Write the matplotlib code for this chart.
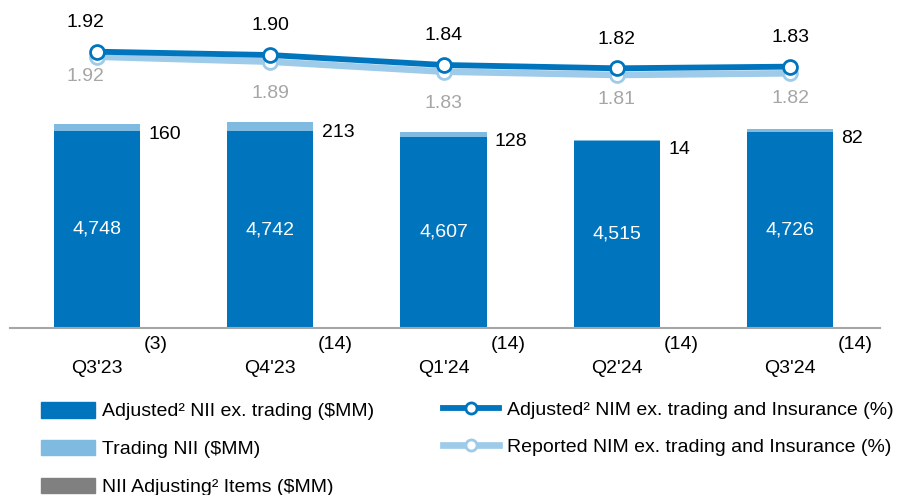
import matplotlib
matplotlib.use("Agg")
import matplotlib.pyplot as plt
from matplotlib.font_manager import fontManager
from matplotlib.lines import Line2D
from matplotlib.patches import Patch

# --- dane ---
quarters = ["Q3'23", "Q4'23", "Q1'24", "Q2'24", "Q3'24"]
adj_nii = [4748, 4742, 4607, 4515, 4726]          # Adjusted NII ex. trading ($MM)
trading_nii = [160, 213, 128, 14, 82]             # Trading NII ($MM)
adjusting_items = [-3, -14, -14, -14, -14]        # NII Adjusting Items ($MM)
adj_nim = [1.92, 1.90, 1.84, 1.82, 1.83]          # Adjusted NIM (%)
rep_nim = [1.92, 1.89, 1.83, 1.81, 1.82]          # Reported NIM (%)

DARK = "#0075BE"
LIGHT_BAR = "#7FBAE0"
LIGHT_LINE = "#9DCBE9"
GRAY = "#808080"
LABEL_GRAY = "#A6A6A6"

available = {f.name for f in fontManager.ttflist}
family = "Liberation Sans Narrow" if "Liberation Sans Narrow" in available else "Liberation Sans"
plt.rcParams["font.family"] = [family, "DejaVu Sans"]
FS = 14

W, H = 911, 495
fig = plt.figure(figsize=(W / 100, H / 100), dpi=100)

# osie: od x=10 do 880 px, od y=20 do 328 px
ax = fig.add_axes([10 / W, (H - 328) / H, 870 / W, 308 / H])
ax3 = ax.twinx()   # reported NIM
ax2 = ax.twinx()   # adjusted NIM

x = list(range(len(quarters)))
bw = 0.497

ax.bar(x, adj_nii, width=bw, color=DARK, zorder=2)
ax.bar(x, trading_nii, width=bw, bottom=adj_nii, color=LIGHT_BAR, zorder=2)
ax.bar(x, adjusting_items, width=bw, color=GRAY, zorder=1, clip_on=False)

ax.set_xlim(-0.502, 4.519)
ax.set_ylim(0, 7423)

for i in x:
    ax.text(i, adj_nii[i] / 2, f"{adj_nii[i]:,}", ha="center", va="center",
            color="white", fontsize=FS)
    top = adj_nii[i] + trading_nii[i]
    ax.annotate(f"{trading_nii[i]}", (i + bw / 2, top), xytext=(6, -1),
                textcoords="offset points", ha="left", va="top",
                fontsize=FS, color="black")
    ax.annotate(f"({-adjusting_items[i]})", (i + bw / 2, 0), xytext=(3, -12),
                textcoords="offset points", ha="left", va="center",
                fontsize=FS, color="black", annotation_clip=False)

for s in ["top", "left", "right"]:
    ax.spines[s].set_visible(False)
ax.spines["bottom"].set_color("#A6A6A6")
ax.spines["bottom"].set_linewidth(1.5)
ax.spines["bottom"].set_zorder(3)
ax.set_yticks([])
ax.set_xticks(x)
ax.set_xticklabels(quarters, fontsize=FS)
ax.tick_params(axis="x", length=0, pad=23)

# linie NIM
ax2.set_ylim(0.2555, 2.111)
ax3.set_ylim(0.2855, 2.141)
ax3.plot(x, rep_nim, color=LIGHT_LINE, lw=4.8, marker="o", ms=10,
         mfc="white", mec=LIGHT_LINE, mew=2, solid_capstyle="butt")
ax2.plot(x, adj_nim, color=DARK, lw=4.2, marker="o", ms=10,
         mfc="white", mec=DARK, mew=2, solid_capstyle="butt")

adj_dx = [-8, 0, 0, 0, 0]
rep_dy = [-14, -23, -23, -18, -18]
for i in x:
    ax2.annotate(f"{adj_nim[i]:.2f}", (i, adj_nim[i]), xytext=(adj_dx[i], 21),
                 textcoords="offset points", ha="center", va="center",
                 fontsize=FS, color="black")
    ax3.annotate(f"{rep_nim[i]:.2f}", (i, rep_nim[i]), xytext=(adj_dx[i], rep_dy[i]),
                 textcoords="offset points", ha="center", va="center",
                 fontsize=FS, color=LABEL_GRAY)

for a in (ax2, ax3):
    a.set_yticks([])
    for s in a.spines.values():
        s.set_visible(False)

# legenda
bar_handles = [Patch(color=DARK), Patch(color=LIGHT_BAR), Patch(color=GRAY)]
bar_labels = ["Adjusted² NII ex. trading ($MM)", "Trading NII ($MM)",
              "NII Adjusting² Items ($MM)"]
fig.legend(bar_handles, bar_labels, loc="upper left",
           bbox_to_anchor=(41 / W, (H - 402) / H), frameon=False, fontsize=FS,
           handlelength=2.8, handleheight=0.85, handletextpad=0.35,
           labelspacing=1.0, borderpad=0, borderaxespad=0)

line_handles = [
    Line2D([], [], color=DARK, lw=4.2, marker="o", ms=8, mfc="white", mec=DARK, mew=2),
    Line2D([], [], color=LIGHT_LINE, lw=4.8, marker="o", ms=8, mfc="white",
           mec=LIGHT_LINE, mew=2),
]
line_labels = ["Adjusted² NIM ex. trading and Insurance (%)",
               "Reported NIM ex. trading and Insurance (%)"]
fig.legend(line_handles, line_labels, loc="upper left",
           bbox_to_anchor=(443 / W, (H - 401) / H), frameon=False, fontsize=FS,
           handlelength=2.9, handletextpad=0.4, labelspacing=1.0,
           borderpad=0, borderaxespad=0)

fig.savefig("out.png", dpi=100)
